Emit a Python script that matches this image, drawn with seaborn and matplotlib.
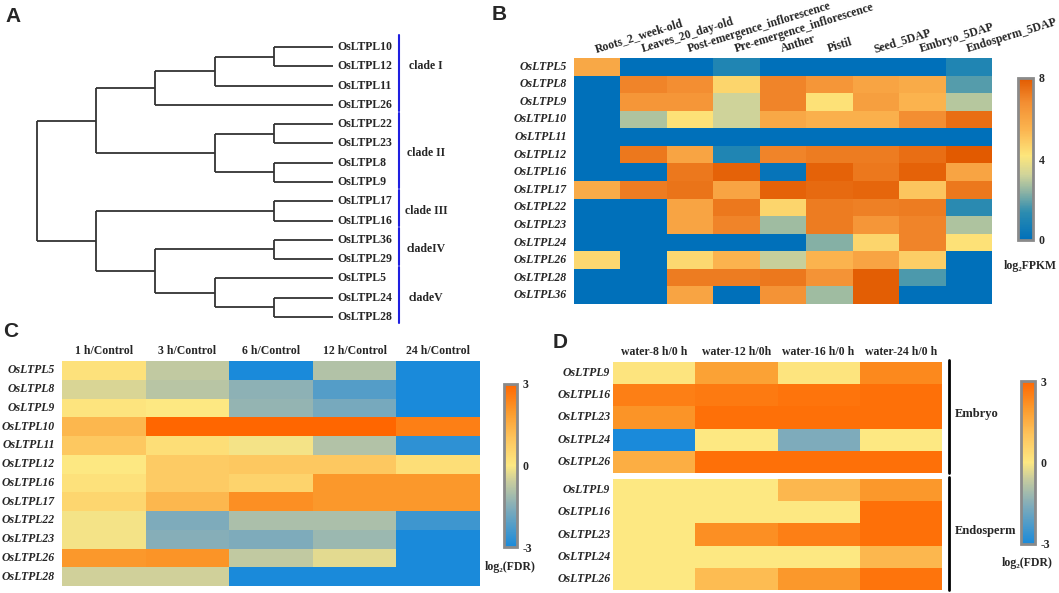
import numpy as np
import pandas as pd
import matplotlib
matplotlib.use("Agg")
import matplotlib.pyplot as plt
import seaborn as sns
from matplotlib.colors import LinearSegmentedColormap
from matplotlib.transforms import ScaledTranslation

# ---------------- data ----------------
# A: tree as (depth, children); leaves sit at depth 5
tree = (0, [
    (1, [
        (2, [(3, [(4, ["OsLTPL10", "OsLTPL12"]), "OsLTPL11"]), "OsLTPL26"]),
        (3, [(4, ["OsLTPL22", "OsLTPL23"]), (4, ["OsLTPL8", "OsLTPL9"])]),
    ]),
    (1, [
        (4, ["OsLTPL17", "OsLTPL16"]),
        (2, [(4, ["OsLTPL36", "OsLTPL29"]), (3, ["OsLTPL5", (4, ["OsLTPL24", "OsLTPL28"])])]),
    ]),
])
leaf_depth = 5
clade_names = ["clade I", "clade II", "clade III", "cladeIV", "cladeV"]
clade_first = [0, 4, 8, 10, 12]
clade_last = [3, 7, 9, 11, 14]
clade_text_row = [1.0, 5.5, 8.5, 10.5, 13.0]

# B: log2FPKM
tissues = ["Roots_2_week-old", "Leaves_20_day-old", "Post-emergence_inflorescence",
           "Pre-emergence_inflorescence", "Anther", "Pistil", "Seed_5DAP",
           "Embryo_5DAP", "Endosperm_5DAP"]
genes_b = ["OsLTPL5", "OsLTPL8", "OsLTPL9", "OsLTPL10", "OsLTPL11", "OsLTPL12",
           "OsLTPL16", "OsLTPL17", "OsLTPL22", "OsLTPL23", "OsLTPL24", "OsLTPL26",
           "OsLTPL28", "OsLTPL36"]
fpkm = [
    [5.9, 0, 0, 1.0, 0, 0, 0, 0, 1.0],
    [0, 7.0, 6.8, 4.6, 7.0, 6.5, 6.0, 5.8, 1.8],
    [0, 6.5, 6.5, 3.2, 7.0, 4.3, 6.2, 5.5, 2.9],
    [0, 2.8, 4.3, 3.2, 5.9, 5.6, 5.6, 6.8, 7.5],
    [0, 0, 0, 0, 0, 0, 0, 0, 0],
    [0, 7.3, 6.0, 1.0, 7.0, 7.2, 7.2, 7.5, 8.0],
    [0, 0, 7.3, 7.8, 0.2, 7.8, 7.3, 7.8, 6.0],
    [5.8, 7.2, 7.4, 6.0, 7.8, 7.6, 7.7, 5.0, 7.3],
    [0, 0, 6.0, 7.3, 4.6, 7.2, 7.1, 7.2, 1.3],
    [0, 0, 6.0, 7.0, 2.6, 7.2, 6.5, 7.0, 2.8],
    [0, 0, 0, 0, 0, 2.3, 4.6, 7.0, 4.3],
    [4.5, 0, 4.5, 5.5, 3.1, 5.5, 6.0, 4.8, 0],
    [0, 0, 7.2, 7.2, 7.3, 6.6, 7.9, 1.7, 0],
    [0, 0, 6.0, 0, 6.6, 2.6, 7.9, 0, 0],
]

# C: log2(FDR), treatment vs control
times_c = ["1 h/Control", "3 h/Control", "6 h/Control", "12 h/Control", "24 h/Control"]
genes_c = ["OsLTPL5", "OsLTPL8", "OsLTPL9", "OsLTPL10", "OsLTPL11", "OsLTPL12",
           "OsLTPL16", "OsLTPL17", "OsLTPL22", "OsLTPL23", "OsLTPL26", "OsLTPL28"]
fdr_c = [
    [0.2, -0.7, -3.0, -0.9, -3.0],
    [-0.4, -0.8, -1.4, -2.2, -3.0],
    [0.1, 0.0, -1.3, -1.7, -3.0],
    [1.3, 3.0, 3.0, 3.0, 2.5],
    [0.9, 0.3, -0.1, -0.9, -2.7],
    [0.0, 0.8, 0.9, 0.9, 0.3],
    [0.2, 0.8, 0.6, 2.0, 2.0],
    [0.5, 1.3, 2.2, 2.0, 2.0],
    [-0.1, -1.6, -1.0, -1.0, -2.5],
    [-0.1, -1.5, -1.6, -1.2, -3.0],
    [2.0, 2.1, -0.7, -0.3, -3.0],
    [-0.5, -0.5, -3.0, -3.0, -3.0],
]

# D: log2(FDR), imbibition
times_d = ["water-8 h/0 h", "water-12 h/0h", "water-16 h/0 h", "water-24 h/0 h"]
genes_d = ["OsLTPL9", "OsLTPL16", "OsLTPL23", "OsLTPL24", "OsLTPL26"]
fdr_embryo = [
    [0.1, 1.8, 0.1, 2.3],
    [2.5, 2.6, 2.7, 2.8],
    [2.1, 2.8, 2.8, 2.8],
    [-3.0, 0.0, -1.6, 0.0],
    [1.5, 2.8, 2.8, 2.8],
]
fdr_endosperm = [
    [0.0, 0.0, 1.3, 2.0],
    [0.0, 0.0, 0.0, 2.8],
    [0.0, 2.2, 2.5, 2.8],
    [0.0, 0.0, 0.0, 1.3],
    [0.0, 1.2, 2.0, 2.7],
]

# ---------------- style ----------------
sns.set_style("white")
plt.rcParams["font.family"] = ["Liberation Serif", "DejaVu Serif"]
plt.rcParams["font.weight"] = "bold"

W, H = 1059, 593
fig = plt.figure(figsize=(W / 100, H / 100), dpi=100)


def px_axes(x0, y0, x1, y1):
    return fig.add_axes([x0 / W, 1 - y1 / H, (x1 - x0) / W, (y1 - y0) / H])


cmap_fpkm = LinearSegmentedColormap.from_list("fpkm", [
    (0.0, "#0070BA"), (0.17, "#2C8CB0"), (0.3, "#8FB4A4"), (0.4, "#CFD39A"),
    (0.52, "#FDE67C"), (0.68, "#FBB550"), (0.85, "#F38E32"), (1.0, "#E25A00")])
cmap_fdr = LinearSegmentedColormap.from_list("fdr", [
    (0.0, "#1A8ADA"), (0.25, "#86AEB8"), (0.4, "#C8CC9E"), (0.5, "#FDE882"),
    (0.67, "#FDC45C"), (0.83, "#FB9A2C"), (1.0, "#FF6600")])

FS = 8.5
panel_font = dict(family=["Liberation Sans", "DejaVu Sans"], fontsize=15, fontweight="bold",
                  va="center", ha="left")
fig.text(5 / W, 1 - 16 / H, "A", **panel_font)
fig.text(492 / W, 1 - 15 / H, "B", **panel_font)
fig.text(3 / W, 1 - 332 / H, "C", **panel_font)
fig.text(553 / W, 1 - 342 / H, "D", **panel_font)

# ---------------- A: dendrogram ----------------
ax_a = px_axes(37, 47, 333, 317)
ax_a.set_xlim(0, leaf_depth)
ax_a.set_ylim(14, 0)
ax_a.axis("off")
leaf_order = []
line_kw = dict(color="#333333", lw=1.3, solid_capstyle="butt", clip_on=False)


def draw(node):
    if isinstance(node, str):
        leaf_order.append(node)
        return leaf_depth, len(leaf_order) - 1
    depth, children = node
    pos = [draw(c) for c in children]
    ys = [p[1] for p in pos]
    ax_a.plot([depth, depth], [min(ys), max(ys)], **line_kw)
    for cd, cy in pos:
        ax_a.plot([depth, cd], [cy, cy], **line_kw)
    return depth, (ys[0] + ys[-1]) / 2


draw(tree)
for i, name in enumerate(leaf_order):
    ax_a.annotate(name, (leaf_depth, i), xytext=(3, 0), textcoords="offset points",
                  va="center", ha="left", fontsize=FS, fontweight="bold")
bar_trans = ax_a.transData + ScaledTranslation(0.66, 0, fig.dpi_scale_trans)
txt_trans = ax_a.transData + ScaledTranslation(0.93, 0, fig.dpi_scale_trans)
for name, a, b, r in zip(clade_names, clade_first, clade_last, clade_text_row):
    ax_a.plot([leaf_depth, leaf_depth], [a - 0.6, b + 0.3], color="#1F1FE0", lw=1.5,
              transform=bar_trans, clip_on=False)
    ax_a.text(leaf_depth, r, name, transform=txt_trans, ha="center", va="center",
              fontsize=FS, fontweight="bold")


def style_heat(ax, ypad):
    ax.xaxis.tick_top()
    ax.tick_params(length=0)
    ax.tick_params(axis="y", pad=ypad)
    for lab in ax.get_yticklabels():
        lab.set_fontstyle("italic")
        lab.set_fontweight("bold")
        lab.set_fontsize(FS)
        lab.set_rotation(0)
    ax.set_xlabel("")
    ax.set_ylabel("")


def style_cbar(cb, ticks):
    cb.outline.set_edgecolor("#8A8A8A")
    cb.outline.set_linewidth(2)
    cb.set_ticks(ticks)
    cb.ax.set_yticklabels([str(t) for t in ticks], fontsize=FS, fontweight="bold")
    cb.ax.tick_params(length=0, pad=4)


# ---------------- B ----------------
df_b = pd.DataFrame(fpkm, index=genes_b, columns=tissues)
ax_b = px_axes(574, 58, 992, 304)
cax_b = px_axes(1018, 78, 1033, 240)
sns.heatmap(df_b, ax=ax_b, cmap=cmap_fpkm, vmin=0, vmax=8, cbar_ax=cax_b)
style_heat(ax_b, 5)
ax_b.set_xticklabels(tissues, rotation=17, ha="left", rotation_mode="anchor",
                     fontsize=FS, fontweight="bold")
off = ScaledTranslation(-0.05, 0, fig.dpi_scale_trans)
for lab in ax_b.get_xticklabels():
    lab.set_transform(lab.get_transform() + off)
ax_b.tick_params(axis="x", pad=2)
style_cbar(ax_b.collections[0].colorbar, [0, 4, 8])
fig.text(1030 / W, 1 - 266 / H, "log\u2082FPKM", ha="center", va="center",
         fontsize=FS, fontweight="bold")

# ---------------- C ----------------
df_c = pd.DataFrame(fdr_c, index=genes_c, columns=times_c)
ax_c = px_axes(62, 361, 480, 586)
cax_c = px_axes(504, 384, 517, 547)
sns.heatmap(df_c, ax=ax_c, cmap=cmap_fdr, vmin=-3, vmax=3, cbar_ax=cax_c)
style_heat(ax_c, 5)
ax_c.set_xticklabels(times_c, rotation=0, fontsize=FS, fontweight="bold")
ax_c.tick_params(axis="x", pad=3)
style_cbar(ax_c.collections[0].colorbar, [-3, 0, 3])
fig.text(510 / W, 1 - 567 / H, "log\u2082(FDR)", ha="center", va="center",
         fontsize=FS, fontweight="bold")

# ---------------- D ----------------
df_emb = pd.DataFrame(fdr_embryo, index=genes_d, columns=times_d)
df_endo = pd.DataFrame(fdr_endosperm, index=genes_d, columns=times_d)
ax_d1 = px_axes(613, 362, 942, 473)
ax_d2 = px_axes(613, 479, 942, 590)
cax_d = px_axes(1021, 381, 1035, 544)
sns.heatmap(df_emb, ax=ax_d1, cmap=cmap_fdr, vmin=-3, vmax=3, cbar_ax=cax_d)
sns.heatmap(df_endo, ax=ax_d2, cmap=cmap_fdr, vmin=-3, vmax=3, cbar=False)
for ax in (ax_d1, ax_d2):
    style_heat(ax, 2)
ax_d1.set_xticklabels(times_d, rotation=0, fontsize=FS, fontweight="bold")
ax_d1.tick_params(axis="x", pad=3)
ax_d2.set_xticks([])
style_cbar(ax_d1.collections[0].colorbar, [-3, 0, 3])
fig.text(1027 / W, 1 - 563 / H, "log\u2082(FDR)", ha="center", va="center",
         fontsize=FS, fontweight="bold")

# tissue brackets beside the D heatmaps
for ax, name in ((ax_d1, "Embryo"), (ax_d2, "Endosperm")):
    ax.plot([1.02, 1.02], [0, 1.02], transform=ax.transAxes, color="black", lw=2, clip_on=False)
    ax.text(1.04, 0.53, name, transform=ax.transAxes, ha="left", va="center",
            fontsize=FS + 0.5, fontweight="bold")

fig.savefig("out.png", dpi=100)
